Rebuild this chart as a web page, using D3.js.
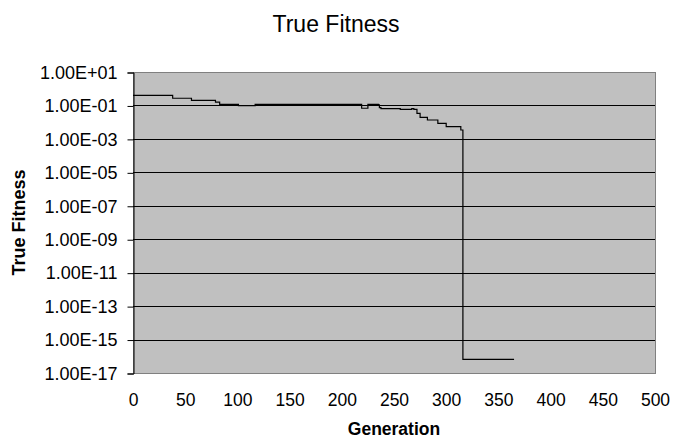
<!DOCTYPE html>
<html>
<head>
<meta charset="utf-8">
<script src="https://cdnjs.cloudflare.com/ajax/libs/d3/7.8.5/d3.min.js"></script>
<style>
  body { margin: 0; background: #fff; }
  text { font-family: Arial, "Liberation Sans", sans-serif; fill: #000; }
</style>
</head>
<body>
<div id="main"></div>
<script>
//data (generation where each step starts, fitness value)
var generations = [0, 38, 56, 79, 83, 101, 117, 219, 225, 235, 236, 237.5, 256, 267, 269, 272, 275, 282, 292, 300, 314, 316, 365];
var fitness = [0.40, 0.27, 0.20, 0.16, 0.117, 0.097, 0.117, 0.068, 0.117, 0.11, 0.075, 0.064, 0.059, 0.064, 0.059, 0.034, 0.0195, 0.0135, 0.0085, 0.0054, 0.0034, 6.6e-17, 6.6e-17];
var xTicks = [0, 50, 100, 150, 200, 250, 300, 350, 400, 450, 500];
var yTicks = [1e1, 1e-1, 1e-3, 1e-5, 1e-7, 1e-9, 1e-11, 1e-13, 1e-15, 1e-17];

//sizes
const width = 673;
const height = 438;
const plotLeft = 133, plotRight = 655, plotTop = 72, plotBottom = 373;

const svg = d3.select('#main')
            .append('svg')
            .attr('width', width)
            .attr('height', height);

//scales
var xScale = d3.scaleLinear().domain([0, 500]).range([plotLeft, plotRight]);
var yScale = d3.scaleLog().domain([1e-17, 1e1]).range([plotBottom, plotTop]);

//excel style scientific label
function sci(v){
  var e = Math.round(Math.log10(v));
  var m = v / Math.pow(10, e);
  var s = e < 0 ? "-" : "+";
  var a = Math.abs(e);
  return m.toFixed(2) + "E" + s + (a < 10 ? "0" + a : a);
}

//plot background
svg.append('rect')
   .attr('x', plotLeft + 0.5).attr('y', plotTop + 0.5)
   .attr('width', plotRight-plotLeft).attr('height', plotBottom-plotTop)
   .attr('fill', '#c0c0c0')
   .attr('stroke', '#808080').attr('stroke-width', 1);

//grid lines
svg.append('g').selectAll('line').data(yTicks.slice(1, -1))
   .enter().append('line')
   .attr('x1', plotLeft).attr('x2', plotRight)
   .attr('y1', function(d){return Math.round(yScale(d)) + 0.5})
   .attr('y2', function(d){return Math.round(yScale(d)) + 0.5})
   .attr('stroke', '#000').attr('stroke-width', 1);

//y axis
var yAxis = d3.axisLeft(yScale).tickValues(yTicks).tickFormat(sci).tickSize(6).tickPadding(10);
var gy = svg.append('g').attr('id', 'y-axis')
   .attr('transform', 'translate(' + (plotLeft + 0.5) + ',0.5)')
   .call(yAxis);
gy.select('.domain').attr('stroke', '#000');
gy.selectAll('text').style('font-size', '18px').attr('font-family', 'Arial, "Liberation Sans", sans-serif');

//x axis (labels only)
var xAxis = d3.axisBottom(xScale).tickValues(xTicks).tickSize(0).tickPadding(21);
var gx = svg.append('g').attr('id', 'x-axis')
   .attr('transform', 'translate(0,' + plotBottom + ')')
   .call(xAxis);
gx.select('.domain').remove();
gx.selectAll('text').style('font-size', '17.5px').attr('font-family', 'Arial, "Liberation Sans", sans-serif');

//the data line
var line = d3.line()
   .x(function(d){return xScale(d[0])})
   .y(function(d){return yScale(d[1])})
   .curve(d3.curveStepAfter);

svg.append('path')
   .datum(generations.map(function(g, i){return [g, fitness[i]]}))
   .attr('d', line)
   .attr('fill', 'none')
   .attr('stroke', '#000')
   .attr('stroke-width', 1.2);

//titles
svg.append('text')
   .attr('x', 336).attr('y', 32)
   .attr('text-anchor', 'middle')
   .style('font-size', '23px')
   .text('True Fitness');

svg.append('text')
   .attr('x', (plotLeft+plotRight)/2).attr('y', 435)
   .attr('text-anchor', 'middle')
   .style('font-size', '17.5px').style('font-weight', 'bold')
   .text('Generation');

svg.append('text')
   .attr('transform', 'translate(25,' + (plotTop+plotBottom)/2 + ') rotate(-90)')
   .attr('text-anchor', 'middle')
   .style('font-size', '18px').style('font-weight', 'bold')
   .text('True Fitness');
</script>
</body>
</html>
